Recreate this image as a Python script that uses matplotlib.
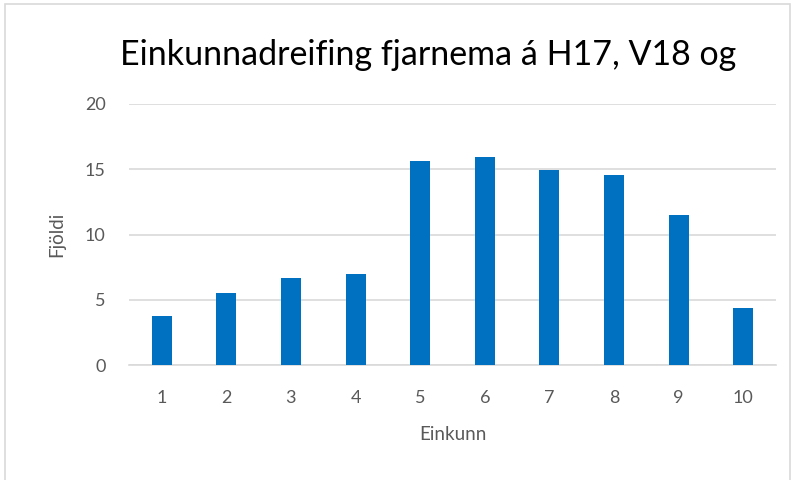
import numpy as np
import matplotlib.pyplot as plt
from matplotlib.patches import Rectangle

# grade distribution for distance students
grades = ["1", "2", "3", "4", "5", "6", "7", "8", "9", "10"]
counts = [3.8, 5.57, 6.66, 7.01, 15.63, 15.91, 14.97, 14.56, 11.51, 4.35]

bar_color = "#0070C0"
text_color = "#595959"
grid_color = "#D9D9D9"

plt.rcParams["font.family"] = ["Lato", "DejaVu Sans"]

fig = plt.figure(figsize=(7.92, 4.8), dpi=100)
# plot area in pixels: x 129..776, y 104..365
ax = fig.add_axes([129.3 / 792, 1 - 365.3 / 480, (775.7 - 129.3) / 792, (365.3 - 104) / 480])

x = np.arange(len(grades))
ax.bar(x, counts, width=0.31, color=bar_color, zorder=3)

ax.set_xlim(-0.5, len(grades) - 0.5)
ax.set_ylim(0, 20)
ax.set_yticks([0, 5, 10, 15, 20])
ax.set_xticks(x)
ax.set_xticklabels(grades)
ax.grid(axis="y", color=grid_color, linewidth=1.2, zorder=0)
for s in ["top", "right", "left"]:
    ax.spines[s].set_visible(False)
ax.spines["bottom"].set_color(grid_color)
ax.spines["bottom"].set_linewidth(1.2)
ax.tick_params(length=0, labelsize=13, labelcolor=text_color)
ax.tick_params(axis="x", pad=18)
ax.tick_params(axis="y", pad=17)

ax.set_xlabel("Einkunn", fontsize=13.5, color=text_color, labelpad=14)
ax.set_ylabel("Fjöldi", fontsize=13.5, color=text_color, labelpad=14)

fig.text(428 / 792, 1 - 55 / 480, "Einkunnadreifing fjarnema á H17, V18 og",
         fontsize=24.5, color="black", ha="center", va="center")

# chart border like the spreadsheet chart frame
fig.patches.append(Rectangle((5 / 792, -0.1), 785 / 792, 1.1 - 4 / 480,
                             transform=fig.transFigure, fill=False,
                             edgecolor="#D9D9D9", linewidth=1.2))

fig.savefig("out.png", dpi=100)
